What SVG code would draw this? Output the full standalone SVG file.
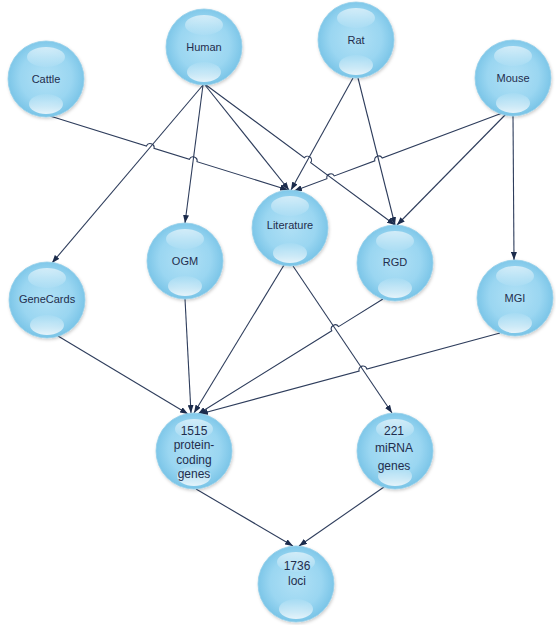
<svg xmlns="http://www.w3.org/2000/svg" xmlns:xlink="http://www.w3.org/1999/xlink" width="556" height="625" viewBox="0 0 556 625">
<style>
  .edge { fill: none; stroke: #2e3d5c; stroke-width: 1.1; marker-end: url(#arr); }
  .lbl { font-family: "Liberation Sans", Arial, sans-serif; font-size: 11px; fill: #1f2d4d; text-anchor: middle; }
  .lbl2 { font-family: "Liberation Sans", Arial, sans-serif; font-size: 12px; fill: #1f2d4d; text-anchor: middle; }
</style>
<defs>
  <radialGradient id="body" cx="50%" cy="48%" r="52%">
    <stop offset="0" stop-color="#b0e0f5"/>
    <stop offset="0.65" stop-color="#9ad6f1"/>
    <stop offset="1" stop-color="#79c4e7"/>
  </radialGradient>
  <linearGradient id="hlTop" x1="0" y1="0" x2="0" y2="1">
    <stop offset="0" stop-color="#ffffff" stop-opacity="0.6"/>
    <stop offset="1" stop-color="#ffffff" stop-opacity="0.05"/>
  </linearGradient>
  <linearGradient id="hlBot" x1="0" y1="0" x2="0" y2="1">
    <stop offset="0" stop-color="#ffffff" stop-opacity="0.05"/>
    <stop offset="1" stop-color="#ffffff" stop-opacity="0.8"/>
  </linearGradient>
  <filter id="shadow" x="-20%" y="-20%" width="140%" height="140%">
    <feDropShadow dx="0.8" dy="1.5" stdDeviation="1.5" flood-color="#000000" flood-opacity="0.2"/>
  </filter>
  <marker id="arr" viewBox="0 0 8 6" refX="8" refY="3" markerWidth="8" markerHeight="6" markerUnits="userSpaceOnUse" orient="auto">
    <path d="M0,0 L8,3 L0,6 z" fill="#1c2c4c"/>
  </marker>
  <g id="sphere">
    <circle r="38" fill="url(#body)" stroke="#94cfea" stroke-width="0.8" filter="url(#shadow)"/>
    <ellipse cx="0" cy="-22" rx="19" ry="10" fill="url(#hlTop)"/>
    <ellipse cx="0" cy="25" rx="17" ry="10" fill="url(#hlBot)"/>
  </g>
</defs>

<g id="connectors">
  <path class="edge" d="M50,116 L146.4,146.0 A4,4 0 0 1 154.0,148.4 L189.4,159.3 A4,4 0 0 1 197.0,161.7 L288,190"/>
  <path class="edge" d="M203,85 L52,263"/>
  <path class="edge" d="M203,85 L185,223"/>
  <path class="edge" d="M205,85 L289,190"/>
  <path class="edge" d="M206,85 L304.3,157.8 A4,4 0 0 1 310.7,162.6 L395,225"/>
  <path class="edge" d="M353,78 L291,190"/>
  <path class="edge" d="M358,78 L395,225"/>
  <path class="edge" d="M505,112 L382.2,158.0 A4,4 0 0 0 374.8,160.8 L334.3,175.9 A4,4 0 0 0 326.9,178.7 L294,191"/>
  <path class="edge" d="M507,113 L397,225"/>
  <path class="edge" d="M513,116 L514,260"/>
  <path class="edge" d="M58,336 L188,414"/>
  <path class="edge" d="M185,299 L191,413"/>
  <path class="edge" d="M284,265 L194,413"/>
  <path class="edge" d="M293,266 L392,413"/>
  <path class="edge" d="M383,299 L338.6,326.6 A4,4 0 0 0 331.8,330.8 L198,414"/>
  <path class="edge" d="M500,333 L366.9,369.0 A4,4 0 0 0 359.1,371.0 L200,414"/>
  <path class="edge" d="M196,489 L293,546"/>
  <path class="edge" d="M384,487 L299,546"/>
</g>

<g id="node-cattle" transform="translate(46,79)"><use href="#sphere"/><text class="lbl" y="4">Cattle</text></g>
<g id="node-human" transform="translate(204,47)"><use href="#sphere"/><text class="lbl" y="4">Human</text></g>
<g id="node-rat" transform="translate(356,40)"><use href="#sphere"/><text class="lbl" y="4">Rat</text></g>
<g id="node-mouse" transform="translate(513,78)"><use href="#sphere"/><text class="lbl" y="4">Mouse</text></g>
<g id="node-genecards" transform="translate(47,300)"><use href="#sphere"/><text class="lbl" y="3">GeneCards</text></g>
<g id="node-ogm" transform="translate(185,261)"><use href="#sphere"/><text class="lbl" y="4">OGM</text></g>
<g id="node-literature" transform="translate(290,228)"><use href="#sphere"/><text class="lbl" y="1">Literature</text></g>
<g id="node-rgd" transform="translate(395,263)"><use href="#sphere"/><text class="lbl" y="3">RGD</text></g>
<g id="node-mgi" transform="translate(515,298)"><use href="#sphere"/><text class="lbl" y="4">MGI</text></g>
<g id="node-protein" transform="translate(194,451)"><use href="#sphere"/>
  <text class="lbl2"><tspan x="0" y="-16.5">1515</tspan><tspan x="0" y="-2">protein-</tspan><tspan x="0" y="12.5">coding</tspan><tspan x="0" y="27">genes</tspan></text></g>
<g id="node-mirna" transform="translate(395,451)"><use href="#sphere"/>
  <text class="lbl2"><tspan x="-1" y="-16.5">221</tspan><tspan x="-1" y="1">miRNA</tspan><tspan x="-1" y="18.5">genes</tspan></text></g>
<g id="node-loci" transform="translate(296,584)"><use href="#sphere"/>
  <text class="lbl2"><tspan x="1" y="-14">1736</tspan><tspan x="1" y="1">loci</tspan></text></g>
</svg>
